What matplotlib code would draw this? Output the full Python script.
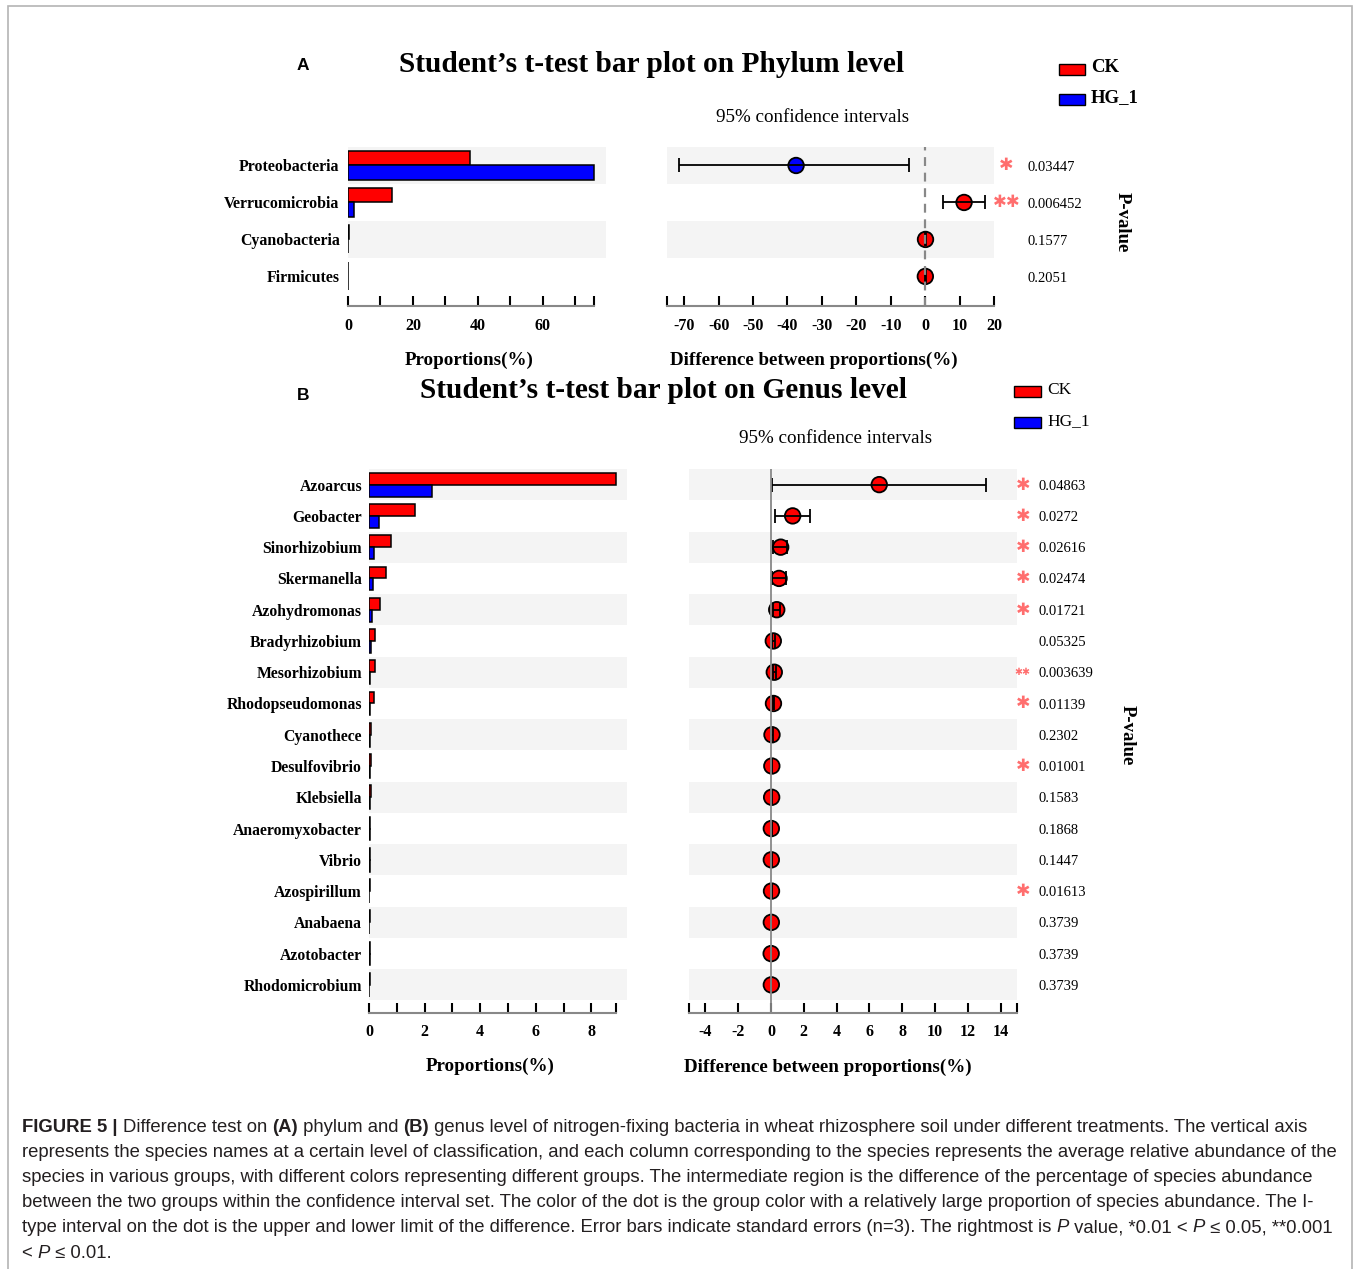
import matplotlib
matplotlib.use('Agg')
import matplotlib.pyplot as plt
from matplotlib.patches import Rectangle
import numpy as np

W, H = 1356, 1269

# ---- Panel A data (phylum) ----
phylum = ['Proteobacteria', 'Verrucomicrobia', 'Cyanobacteria', 'Firmicutes']
phylum_ck = [37.5, 13.4, 0.25, 0.15]
phylum_hg = [75.7, 1.9, 0.05, 0.03]
phylum_diff = [-37.5, 11.3, 0.1, 0.05]
phylum_lo = [-71.6, 5.2, 0.0, 0.0]
phylum_hi = [-4.6, 17.4, 0.2, 0.1]
phylum_p = ['0.03447', '0.006452', '0.1577', '0.2051']
phylum_sig = ['*', '**', '', '']

# ---- Panel B data (genus) ----
genus = ['Azoarcus', 'Geobacter', 'Sinorhizobium', 'Skermanella', 'Azohydromonas',
         'Bradyrhizobium', 'Mesorhizobium', 'Rhodopseudomonas', 'Cyanothece',
         'Desulfovibrio', 'Klebsiella', 'Anaeromyxobacter', 'Vibrio', 'Azospirillum',
         'Anabaena', 'Azotobacter', 'Rhodomicrobium']
genus_ck = [8.87, 1.67, 0.78, 0.61, 0.40, 0.20, 0.23, 0.17, 0.08, 0.08, 0.07,
            0.05, 0.05, 0.04, 0.03, 0.04, 0.03]
genus_hg = [2.27, 0.35, 0.17, 0.13, 0.10, 0.07, 0.03, 0.02, 0.02, 0.02, 0.03,
            0.04, 0.05, 0.01, 0.01, 0.04, 0.01]
genus_diff = [6.6, 1.32, 0.59, 0.49, 0.35, 0.14, 0.20, 0.15, 0.06, 0.05, 0.04,
              0.02, 0.02, 0.03, 0.02, 0.01, 0.02]
genus_lo = [0.04, 0.22, 0.10, 0.08, 0.10, 0.04, 0.12, 0.10, 0.02, 0.03, 0.02,
            0.0, 0.0, 0.02, 0.01, 0.0, 0.01]
genus_hi = [13.1, 2.35, 1.0, 0.91, 0.55, 0.25, 0.30, 0.20, 0.10, 0.07, 0.06,
            0.04, 0.04, 0.04, 0.03, 0.02, 0.03]
genus_p = ['0.04863', '0.0272', '0.02616', '0.02474', '0.01721', '0.05325',
           '0.003639', '0.01139', '0.2302', '0.01001', '0.1583', '0.1868',
           '0.1447', '0.01613', '0.3739', '0.3739', '0.3739']
genus_sig = ['*', '*', '*', '*', '*', '', '**', '*', '', '*', '', '', '', '*', '', '', '']

groups = ['CK', 'HG_1']
group_colors = ['#ff0000', '#0000ff']

SERIF = 'Liberation Serif'
BAND = '#f4f4f4'
STAR = '#ff6e6e'

fig = plt.figure(figsize=(W / 100, H / 100), dpi=100)


def rect(x0, y0, x1, y1):
    return [x0 / W, 1 - y1 / H, (x1 - x0) / W, (y1 - y0) / H]


def fx(x):
    return x / W


def fy(y):
    return 1 - y / H


def bar_panel(box, names, ck, hg, xmax, axis_end, major, minor, ylo, lab_size, pad, tpad):
    ax = fig.add_axes(box)
    ax.set_facecolor('none')
    n = len(names)
    y = np.arange(n)
    for i in range(0, n, 2):
        ax.axhspan(i - 0.5, i + 0.5, color=BAND, lw=0, zorder=0)
    ax.barh(y - 0.19, ck, height=0.38, color=group_colors[0], edgecolor='black', lw=1.1, zorder=2)
    ax.barh(y + 0.19, hg, height=0.38, color=group_colors[1], edgecolor='black', lw=1.1, zorder=2)
    ax.set_xlim(0, xmax)
    ax.set_ylim(ylo, -0.5)
    ax.set_yticks(y)
    ax.set_yticklabels(names, fontfamily=SERIF, fontweight='bold', fontsize=lab_size)
    ax.tick_params(axis='y', length=0, pad=pad)
    ax.set_xticks(major)
    ax.set_xticklabels([('%g' % v if k % 2 == 0 else '') for k, v in enumerate(major)],
                       fontfamily=SERIF, fontweight='bold', fontsize=11.5)
    ax.set_xticks(minor, minor=True)
    for s in ['left', 'top', 'right']:
        ax.spines[s].set_visible(False)
    ax.spines['bottom'].set_color('#888888')
    ax.spines['bottom'].set_linewidth(1.5)
    ax.spines['bottom'].set_bounds(0, axis_end)
    ax.tick_params(axis='x', which='both', direction='in', length=7, width=1.5, color='black', pad=tpad)
    return ax


def ci_panel(box, diff, lo, hi, xlim, major, minor, ylo, dashed, tpad):
    ax = fig.add_axes(box)
    ax.set_facecolor('none')
    n = len(diff)
    y = np.arange(n)
    for i in range(0, n, 2):
        ax.axhspan(i - 0.5, i + 0.5, color=BAND, lw=0, zorder=0)
    diff = np.array(diff)
    err = [diff - np.array(lo), np.array(hi) - diff]
    cols = [group_colors[0] if d > 0 else group_colors[1] for d in diff]
    ax.scatter(diff, y, s=125, c=cols, edgecolors='black', linewidths=1.3, zorder=3)
    ax.errorbar(diff, y, xerr=err, fmt='none', ecolor='black', elinewidth=1.3,
                capsize=5, capthick=1.3, zorder=4)
    if dashed:
        ax.axvline(0, color='#888888', lw=1.6, ls=(0, (4, 3)), zorder=5)
    else:
        ax.axvline(0, color='#888888', lw=1.3, zorder=5)
    ax.set_xlim(*xlim)
    ax.set_ylim(ylo, -0.5)
    ax.set_yticks([])
    ax.set_xticks(major)
    ax.set_xticklabels(['%g' % v for v in major], fontfamily=SERIF, fontweight='bold', fontsize=11.5)
    ax.set_xticks(minor, minor=True)
    for s in ['left', 'top', 'right']:
        ax.spines[s].set_visible(False)
    ax.spines['bottom'].set_color('#888888')
    ax.spines['bottom'].set_linewidth(1.5)
    ax.tick_params(axis='x', which='both', direction='in', length=7, width=1.5, color='black', pad=tpad)
    return ax


def p_column(ax, pvals, sig, x_star, x_p, fs_star, double_scale):
    for i, (p, s) in enumerate(zip(pvals, sig)):
        ax.text(x_p, i + 0.05, p, fontfamily=SERIF, fontsize=10.5, va='center', ha='left', clip_on=False)
        if s:
            size = fs_star if s == '*' else fs_star * double_scale
            ax.text(x_star, i, '\u2731' * len(s), fontfamily='DejaVu Sans', fontsize=size,
                    color=STAR, va='center', ha='center', clip_on=False)


# ---- Panel A ----
axa1 = bar_panel(rect(348, 147, 606, 306), phylum, phylum_ck, phylum_hg, 79.4, 75.7,
                 [0, 10, 20, 30, 40, 50, 60, 70], [75.7], 3.8, 11.4, 6, 9)
axa2 = ci_panel(rect(667, 147, 994, 306), phylum_diff, phylum_lo, phylum_hi, (-75, 20),
                list(range(-70, 21, 10)), [-75], 3.8, True, 9)
p_column(axa2, phylum_p, phylum_sig, 23.6, 29.6, 12.5, 0.95)

fig.text(fx(303), fy(66), 'A', fontfamily='Liberation Sans', fontweight='bold', fontsize=12.5,
         ha='center', va='center')
fig.text(fx(652), fy(64), 'Student\u2019s t-test bar plot on Phylum level', fontfamily=SERIF,
         fontweight='bold', fontsize=21.2, ha='center', va='center')
fig.text(fx(813), fy(117), '95% confidence intervals', fontfamily=SERIF, fontsize=13.7,
         ha='center', va='center')
fig.text(fx(469), fy(360), 'Proportions(%)', fontfamily=SERIF, fontweight='bold', fontsize=13.7,
         ha='center', va='center')
fig.text(fx(814), fy(360), 'Difference between proportions(%)', fontfamily=SERIF,
         fontweight='bold', fontsize=13.7, ha='center', va='center')
fig.text(fx(1122), fy(222), 'P-value', fontfamily=SERIF, fontweight='bold', fontsize=13.5,
         rotation=270, ha='center', va='center')

for k, (g, c) in enumerate(zip(groups, group_colors)):
    yy = 64 + 30 * k
    fig.add_artist(Rectangle((fx(1059), fy(yy + 11)), 26 / W, 11 / H, facecolor=c,
                             edgecolor='black', lw=1.0, transform=fig.transFigure))
    fig.text(fx(1091), fy(yy + 4), g, fontfamily=SERIF, fontweight='bold', fontsize=13.5,
             ha='left', va='center')

# ---- Panel B ----
axb1 = bar_panel(rect(369, 469, 627, 1013), genus, genus_ck, genus_hg, 9.28, 8.9,
                 list(range(0, 9)), [8.9], 16.9, 11.3, 5, 8)
axb2 = ci_panel(rect(689, 469, 1017, 1013), genus_diff, genus_lo, genus_hi, (-5, 15),
                list(range(-4, 15, 2)), [-5, 15], 16.9, False, 8)
p_column(axb2, genus_p, genus_sig, 15.35, 16.3, 12.5, 0.55)

fig.text(fx(303), fy(396), 'B', fontfamily='Liberation Sans', fontweight='bold', fontsize=12.5,
         ha='center', va='center')
fig.text(fx(664), fy(391), 'Student\u2019s t-test bar plot on Genus level', fontfamily=SERIF,
         fontweight='bold', fontsize=21.2, ha='center', va='center')
fig.text(fx(836), fy(438), '95% confidence intervals', fontfamily=SERIF, fontsize=13.7,
         ha='center', va='center')
fig.text(fx(490), fy(1066), 'Proportions(%)', fontfamily=SERIF, fontweight='bold', fontsize=13.7,
         ha='center', va='center')
fig.text(fx(828), fy(1067), 'Difference between proportions(%)', fontfamily=SERIF,
         fontweight='bold', fontsize=13.7, ha='center', va='center')
fig.text(fx(1127), fy(735), 'P-value', fontfamily=SERIF, fontweight='bold', fontsize=13.5,
         rotation=270, ha='center', va='center')

for k, (g, c) in enumerate(zip(groups, group_colors)):
    yy = 386 + 31 * k
    fig.add_artist(Rectangle((fx(1014), fy(yy + 11)), 27 / W, 11 / H, facecolor=c,
                             edgecolor='black', lw=1.0, transform=fig.transFigure))
    fig.text(fx(1047), fy(yy + 4), g, fontfamily=SERIF, fontsize=12.5, ha='left', va='center')

# ---- frame + caption ----
fig.add_artist(Rectangle((fx(8), -0.02), (1352 - 8) / W, fy(6) + 0.02, facecolor='none',
                         edgecolor='#b4b4b4', lw=1.2, transform=fig.transFigure))

caption = [
    [('FIGURE 5 | ', 'bold'), ('Difference test on ', 'normal'), ('(A)', 'bold'),
     (' phylum and ', 'normal'), ('(B)', 'bold'),
     (' genus level of nitrogen-fixing bacteria in wheat rhizosphere soil under different treatments. The vertical axis', 'normal')],
    [('represents the species names at a certain level of classification, and each column corresponding to the species represents the average relative abundance of the', 'normal')],
    [('species in various groups, with different colors representing different groups. The intermediate region is the difference of the percentage of species abundance', 'normal')],
    [('between the two groups within the confidence interval set. The color of the dot is the group color with a relatively large proportion of species abundance. The I-', 'normal')],
    [('type interval on the dot is the upper and lower limit of the difference. Error bars indicate standard errors (n=3). The rightmost is ', 'normal'),
     ('P', 'italic'), (' value, *0.01 < ', 'normal'), ('P', 'italic'), (' \u2264 0.05, **0.001', 'normal')],
    [('< ', 'normal'), ('P', 'italic'), (' \u2264 0.01.', 'normal')],
]

renderer = fig.canvas.get_renderer()
CAP_FS = 13.3


def cap_kw(style):
    kw = dict(fontfamily='Liberation Sans', fontsize=CAP_FS, color='#231f20')
    if style == 'bold':
        kw['fontweight'] = 'bold'
    if style == 'italic':
        kw['fontstyle'] = 'italic'
    return kw


def text_width(s, style):
    t = fig.text(0, 0, '|' + s + '|', **cap_kw(style))
    w1 = t.get_window_extent(renderer).width
    t.remove()
    t = fig.text(0, 0, '||', **cap_kw(style))
    w2 = t.get_window_extent(renderer).width
    t.remove()
    return w1 - w2


for li, parts in enumerate(caption):
    x = 22
    y = 1127 + 25.2 * li
    for s, style in parts:
        fig.text(fx(x), fy(y), s, ha='left', va='center', **cap_kw(style))
        x += text_width(s, style)

fig.savefig('out.png', dpi=100)
